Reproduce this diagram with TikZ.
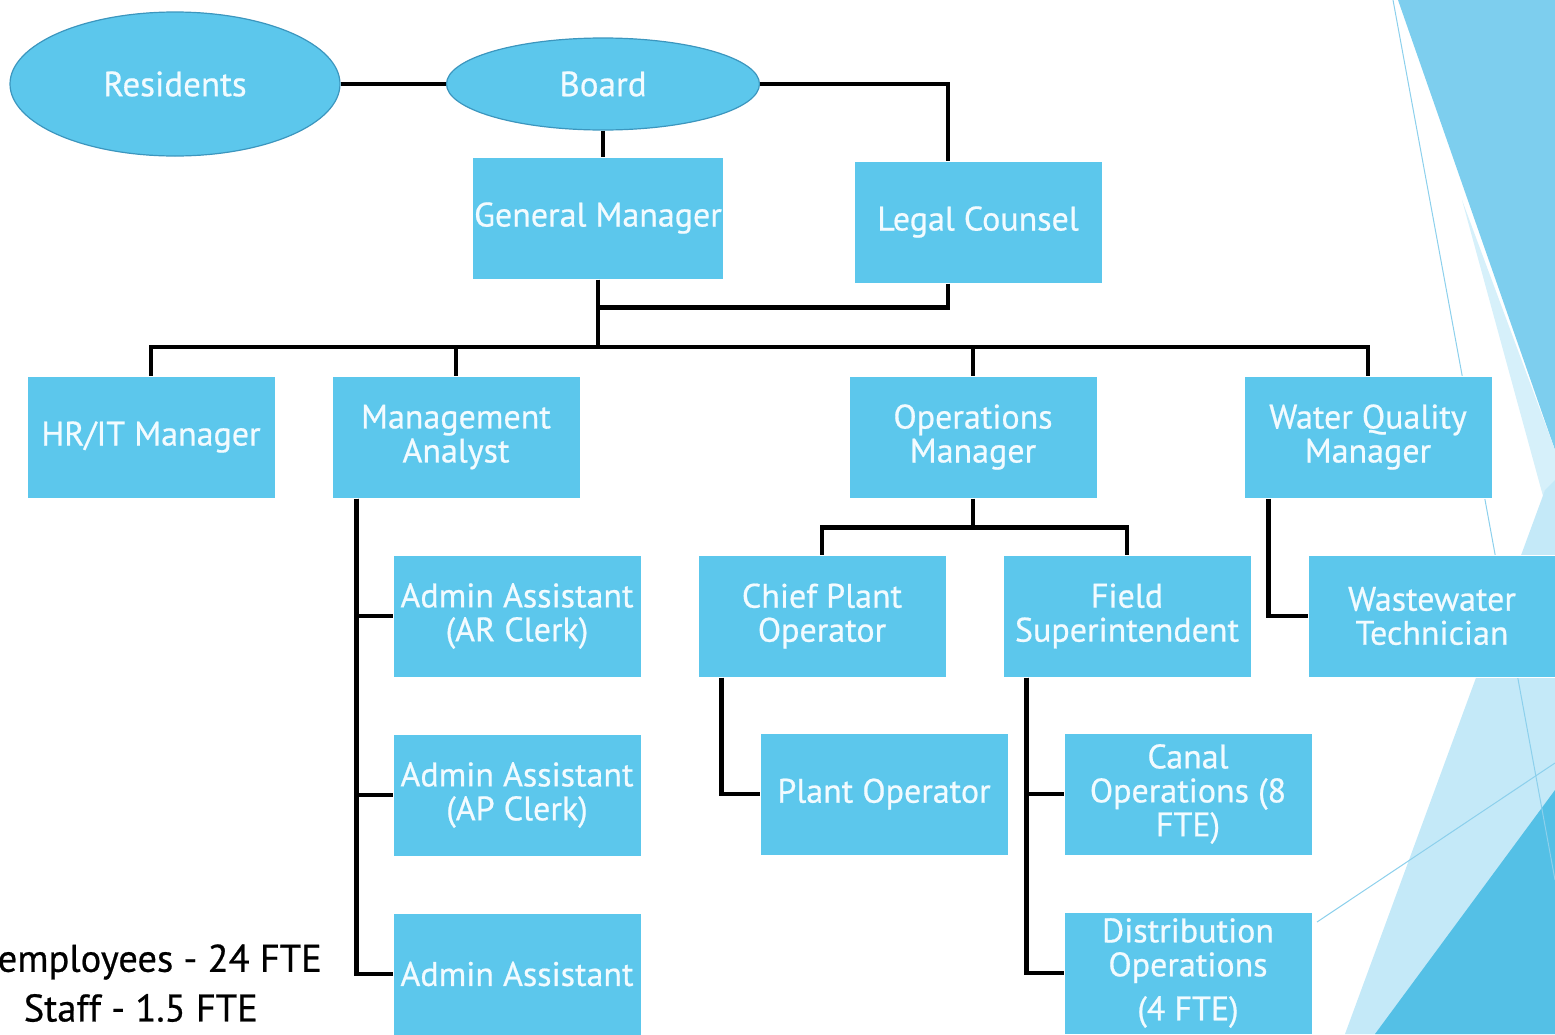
\documentclass[tikz,border=0pt]{standalone}
\usepackage{fontspec}
\setmainfont{PT Sans}
\newfontfamily\labelfont{PT Sans}[FakeBold=0.6]
\usetikzlibrary{shapes,positioning}

\definecolor{boxblue}{RGB}{92,199,236}
\definecolor{ovalline}{RGB}{60,150,190}
\definecolor{labeltext}{RGB}{242,251,255}
\definecolor{facetmid}{RGB}{125,206,238}
\definecolor{facetpale}{RGB}{214,240,250}
\definecolor{facetlight}{RGB}{196,233,248}
\definecolor{facetdark}{RGB}{84,192,230}
\definecolor{facetline}{RGB}{140,208,236}

\begin{document}
\begin{tikzpicture}[x=1pt, y=-1pt, node distance=56pt]
  \tikzset{
    role/.style={draw=white, line width=1pt, fill=boxblue, text=labeltext,
      minimum width=248pt, minimum height=122pt, inner sep=2pt,
      align=center, font=\labelfont\fontsize{34}{34}\selectfont},
    oval/.style={ellipse, draw=ovalline, line width=1.2pt, fill=boxblue,
      text=labeltext, inner sep=0pt, font=\labelfont\fontsize{35}{35}\selectfont},
    link/.style={line width=4.5pt, black},
    note/.style={anchor=east, inner sep=0pt, font=\labelfont\fontsize{38.5}{40}\selectfont},
  }

  \useasboundingbox (0,0) rectangle (1555,1034);

  % facets on the right
  \fill[facetmid] (1398,0) -- (1555,0) -- (1555,450) -- cycle;
  \fill[facetpale] (1462,200) -- (1555,450) -- (1555,540) -- cycle;
  \fill[facetlight] (1545,490) -- (1555,480) -- (1555,1034) -- (1345,1034) -- cycle;
  \fill[facetdark] (1555,790) -- (1555,1034) -- (1375,1034) -- cycle;
  \draw[facetline, line width=1pt] (1393,0) -- (1555,880);
  \draw[facetline, line width=1pt] (1317,922) -- (1555,763);

  \node[oval, minimum width=330pt, minimum height=144pt] (residents) at (175,84) {Residents};
  \node[oval, minimum width=313pt, minimum height=92pt] (board) at (603,84) {Board};
  \node[role] (gm) at (598,218) {General Manager};
  \node[role] (legal) at (978,222) {Legal Counsel};

  \node[role] (hrit) at (151,437) {HR/IT Manager};
  \node[role] (analyst) [right=of hrit] {Management\\Analyst};
  \node[role] (opsmgr) at (973,437) {Operations\\Manager};
  \node[role] (wqmgr) [right=146pt of opsmgr] {Water Quality\\Manager};

  \node[role] (arclerk) at (517,616) {Admin Assistant\\(AR Clerk)};
  \node[role] (chief) [right=of arclerk] {Chief Plant\\Operator};
  \node[role] (fieldsup) [right=of chief] {Field\\Superintendent};
  \node[role] (wwtech) [right=of fieldsup] {Wastewater\\Technician};

  \node[role] (apclerk) [below=of arclerk] {Admin Assistant\\(AP Clerk)};
  \node[role] (plantop) at (884,794) {Plant Operator};
  \node[role] (canal) at (1188,794) {Canal\\Operations (8\\FTE)};

  \node[role] (admin) [below=of apclerk] {Admin Assistant};
  \node[role] (distrib) [below=of canal] {Distribution\\Operations\\[10pt](4 FTE)};

  \node[note] (fte) at (322,962) {employees - 24 FTE};
  \node[note] (staff) at (258,1008) {Staff - 1.5 FTE};

  \coordinate (bus) at (598,347);

  \draw[link] (residents) -- (board);
  \draw[link] (board.east) -| ([xshift=-30pt]legal.north);
  \draw[link] (board.south) -- (board.south |- gm.north);
  \draw[link] (gm.south) -- (bus);
  \draw[link] ([xshift=-30pt]legal.south) -- ++(0,24) -| (gm.south);
  \draw[link] (hrit.north) |- (bus) -| (wqmgr.north);
  \foreach \n in {analyst,opsmgr}
    \draw[link] (\n.north) -- (\n.north |- bus);

  \foreach \n in {arclerk,apclerk,admin}
    \draw[link] ([xshift=25pt]analyst.south west) |- (\n.west);

  \draw[link] (opsmgr.south) -- ++(0,29) coordinate (opsbar);
  \draw[link] (chief.north) |- (opsbar) -| (fieldsup.north);
  \draw[link] ([xshift=24pt]chief.south west) |- (plantop.west);
  \foreach \n in {canal,distrib}
    \draw[link] ([xshift=24pt]fieldsup.south west) |- (\n.west);
  \draw[link] ([xshift=25pt]wqmgr.south west) |- (wwtech.west);

\end{tikzpicture}
\end{document}
